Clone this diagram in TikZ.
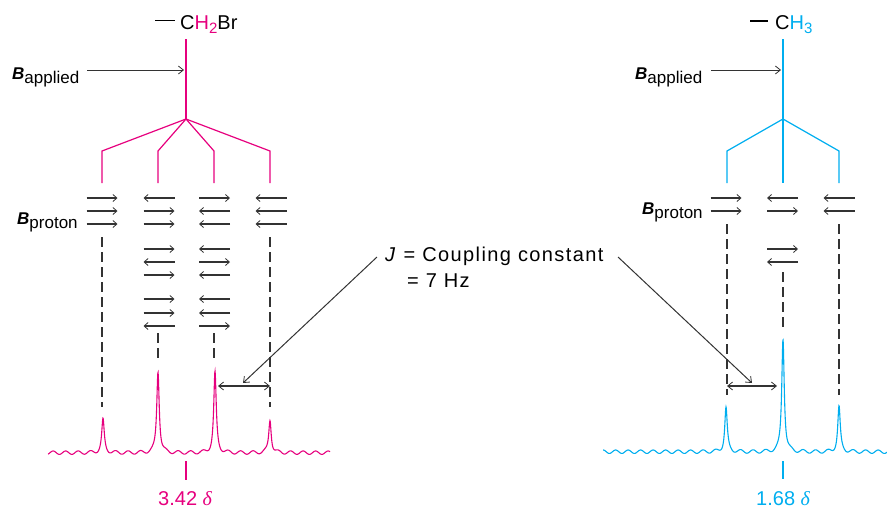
\documentclass[tikz,border=0pt]{standalone}
\usepackage{fontspec}
\setmainfont{Liberation Sans}
\newfontfamily\serifgreek{Liberation Serif}
\newfontfamily\widesans[LetterSpace=7]{Liberation Sans}
\usetikzlibrary{arrows.meta}
\definecolor{nmrpink}{HTML}{E6007E}
\definecolor{nmrcyan}{HTML}{00AEEF}
\definecolor{arrgray}{HTML}{333333}
\tikzset{
  pinkline/.style={nmrpink, line width=1.2pt},
  cyanline/.style={nmrcyan, line width=1.2pt},
  bondline/.style={black, line width=1.2pt},
  spin/.style={arrgray, line width=1.1pt, -{Straight Barb[length=4pt,width=7pt,line width=0.8pt]}},
  guide/.style={arrgray, line width=1.1pt, dash pattern=on 10pt off 5pt},
  pointer/.style={arrgray, line width=1pt, -{Straight Barb[length=5pt,width=8pt,line width=0.8pt]}},
  dimarrow/.style={arrgray, line width=1.1pt, {Straight Barb[length=5pt,width=8pt,line width=0.8pt]}-{Straight Barb[length=5pt,width=8pt,line width=0.8pt]}},
  lbl/.style={inner sep=0pt, anchor=base west, font=\fontsize{20}{24}\selectfont},
  blbl/.style={inner sep=0pt, anchor=base west, font=\fontsize{17}{20}\selectfont},
  pics/sr/.style={code={\draw[spin] (-15.5,0) -- (15.5,0);}},
  pics/sl/.style={code={\draw[spin] (15.5,0) -- (-15.5,0);}},
}
\newcommand{\Bsub}[1]{\textbf{\textit{B}}\raisebox{-4.5pt}{#1}}
\begin{document}
\begin{tikzpicture}[x=1pt,y=-1pt]
\useasboundingbox (0,0) rectangle (887,509);

% ---------- left: CH2Br ----------
\draw[bondline] (155,20.7) -- (175,20.7);
\node[lbl] (molL) at (180,29) {C\textcolor{nmrpink}{H\raisebox{-4pt}{\fontsize{15}{18}\selectfont 2}}Br};
\coordinate (topL) at (186,39);
\coordinate (brL) at (186,119);
\draw[pinkline] (topL) -- (brL);
\foreach \cx in {102,158,214,270}
  \draw[pinkline] (brL) -- (\cx,151) -- (\cx,183);

\node[blbl] (bapL) at (12,79) {\Bsub{applied}};
\coordinate (bapLs) at (87,70);
\coordinate (bapLe) at (184,70);
\draw[pointer] (bapLs) -- (bapLe);

\node[blbl] (bprL) at (17,224) {\Bsub{proton}};

% spin arrows left
\foreach \cx/\cy in {102/198,102/211,102/224,
  159/211,159/224,159/249,159/275,159/299,159/313,
  214.5/198,214.5/262,214.5/326}
  \pic at (\cx,\cy) {sr};
\foreach \cx/\cy in {159/198,159/262,159/326,
  214.5/211,214.5/224,214.5/249,214.5/275,214.5/299,214.5/313,
  271/198,271/211,271/224}
  \pic at (\cx,\cy) {sl};

% guides left
\draw[guide] (102,237) -- (102,407);
\draw[guide] (270,237) -- (270,407);
\draw[guide] (158,333) -- (158,360);
\draw[guide] (214,333) -- (214,360);

% spectrum left
\draw[nmrpink, line width=1.1pt] plot[domain=48:330, samples=1100]
  (\x, {453 - 1.7*sin(28.8*mod(\x,12.5))
   - 33/(1+(min(abs(\x-103),40)/1.5)^2)
   - 82/(1+(min(abs(\x-158),40)/1.5)^2)
   - 80/(1+(min(abs(\x-215),40)/1.5)^2)
   - 33/(1+(min(abs(\x-270),40)/1.5)^2)});
\draw[pinkline] (186,461) -- (186,480);
\node[lbl, text=nmrpink] (shiftL) at (158,505.5) {3.42 {\serifgreek\itshape δ}};

% J arrow left
\coordinate (jL1) at (218,386);
\coordinate (jL2) at (270,386);
\draw[dimarrow] (jL1) -- (jL2);

% ---------- right: CH3 ----------
\draw[bondline] (750,21) -- (768,21);
\node[lbl] (molR) at (775,29) {C\textcolor{nmrcyan}{H\raisebox{-4pt}{\fontsize{15}{18}\selectfont 3}}};
\coordinate (topR) at (783,39);
\coordinate (brR) at (783,119);
\draw[cyanline] (topR) -- (783,183);
\foreach \cx in {727,839}
  \draw[cyanline] (brR) -- (\cx,151) -- (\cx,183);

\node[blbl] (bapR) at (635,79) {\Bsub{applied}};
\coordinate (bapRs) at (711,70);
\coordinate (bapRe) at (781,70);
\draw[pointer] (bapRs) -- (bapRe);

\node[blbl] (bprR) at (642,214) {\Bsub{proton}};

\foreach \cx/\cy in {726/198,726/211,782.5/211,782.5/249}
  \pic at (\cx,\cy) {sr};
\foreach \cx/\cy in {782.5/198,782.5/262,839/198,839/211}
  \pic at (\cx,\cy) {sl};

\draw[guide] (727,224) -- (727,395);
\draw[guide] (839,224) -- (839,395);
\draw[guide] (783,272) -- (783,330);

\draw[nmrcyan, line width=1.1pt] plot[domain=603:887, samples=1100]
  (\x, {452 - 1.7*sin(28.8*mod(\x,12.5))
   - 44/(1+(min(abs(\x-726),40)/1.5)^2)
   - 114/(1+(min(abs(\x-783),40)/1.5)^2)
   - 45/(1+(min(abs(\x-839),40)/1.5)^2)});
\draw[cyanline] (783,461) -- (783,479);
\node[lbl, text=nmrcyan] (shiftR) at (756,505.5) {1.68 {\serifgreek\itshape δ}};

\coordinate (jR1) at (727,386);
\coordinate (jR2) at (777,386);
\draw[dimarrow] (jR1) -- (jR2);

% ---------- coupling constant label ----------
\node[lbl] (Jtext) at (385,261) {\widesans\textit{J} = Coupling constant};
\node[lbl] (Jval) at (407,287) {\widesans = 7 Hz};
\coordinate (JLs) at (377,257);
\coordinate (JLe) at (243,383);
\coordinate (JRs) at (618,257);
\coordinate (JRe) at (752,383);
\draw[pointer] (JLs) -- (JLe);
\draw[pointer] (JRs) -- (JRe);
\end{tikzpicture}
\end{document}
